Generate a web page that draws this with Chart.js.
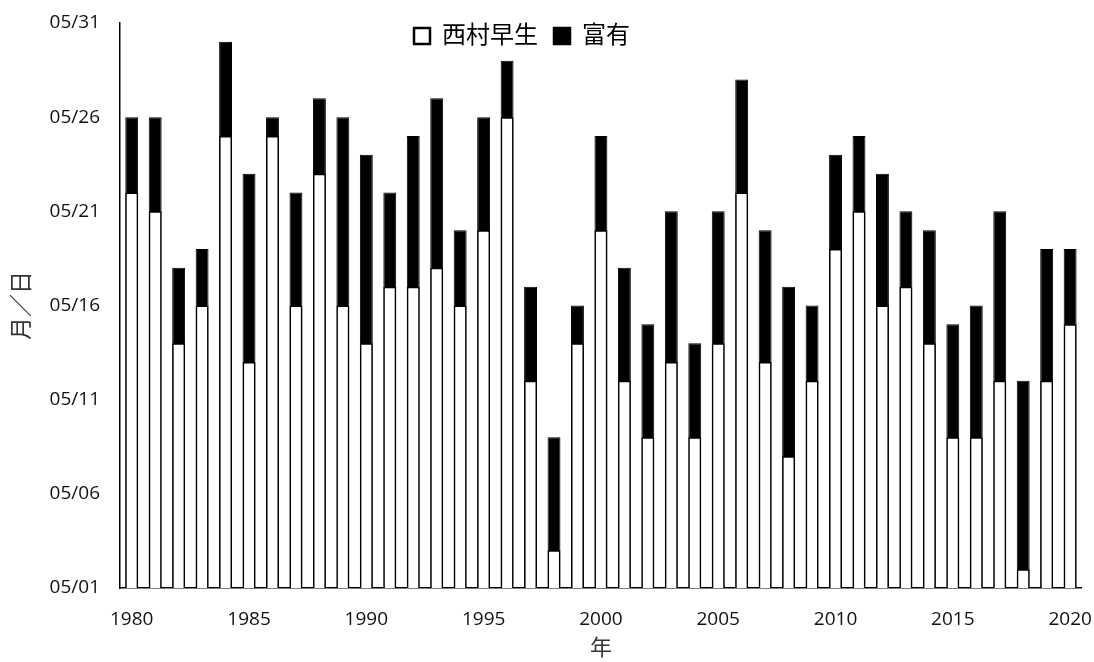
<!DOCTYPE html>
<html>
<head>
<meta charset="utf-8">
<script src="https://cdn.jsdelivr.net/npm/chart.js@4/dist/chart.umd.min.js"></script>
<style>
  html, body { margin: 0; padding: 0; background: #fff; }
  #wrap { width: 1094px; height: 662px; }
</style>
</head>
<body>
<div id="wrap"><canvas id="chart"></canvas></div>
<script>
const years = [];
for (let y = 1980; y <= 2020; y++) years.push(String(y));

// day of May
const nishimura = [22, 21, 14, 16, 25, 13, 25, 16, 23, 16,
                   14, 17, 17, 18, 16, 20, 26, 12, 3, 14,
                   20, 12, 9, 13, 9, 14, 22, 13, 8, 12,
                   19, 21, 16, 17, 14, 9, 9, 12, 2, 12, 15];
const fuyu = [26, 26, 18, 19, 30, 23, 26, 22, 27, 26,
              24, 22, 25, 27, 20, 26, 29, 17, 9, 16,
              25, 18, 15, 21, 14, 21, 28, 20, 17, 16,
              24, 25, 23, 21, 20, 15, 16, 21, 12, 19, 19];
const yTicks = [1, 6, 11, 16, 21, 26, 31];

const font = "'Open Sans', 'Noto Sans CJK JP', sans-serif";

// legend takes no room and floats over the top of the plot
const legendFloat = {
    id: 'legendFloat',
    beforeLayout(chart) {
        const lg = chart.legend;
        if (lg && !lg._patched) {
            const fit = lg.fit;
            lg.fit = function () {
                fit.call(this);
                this.height = 0;
            };
            lg._patched = true;
        }
    },
    afterLayout(chart) {
        const lg = chart.legend;
        lg.left -= 19;
        lg.right -= 19;
        lg.top = 8;
        lg.bottom = 60;
    }
};

// hidden tick marks just to space the labels off the axis
const noGrid = { display: false, drawTicks: true, tickLength: 18, color: 'rgba(0,0,0,0)' };

new Chart(document.getElementById('chart'), {
    type: 'bar',
    data: {
        labels: years,
        datasets: [{
            label: '西村早生',
            data: nishimura,
            backgroundColor: '#ffffff',
            borderColor: '#000000',
            borderWidth: 1.5,
            borderSkipped: false,
            barPercentage: 0.55,
            categoryPercentage: 1
        }, {
            label: '富有',
            data: fuyu,
            backgroundColor: '#000000',
            borderColor: '#000000',
            borderWidth: 1,
            barPercentage: 0.55,
            categoryPercentage: 1
        }]
    },
    plugins: [legendFloat],
    options: {
        responsive: true,
        maintainAspectRatio: false,
        animation: false,
        layout: { padding: { top: 23, right: 12, bottom: 0, left: 0 } },
        plugins: {
            tooltip: { enabled: false },
            legend: {
                position: 'top',
                align: 'center',
                labels: {
                    color: '#222',
                    font: { family: font, size: 24 },
                    boxWidth: 16,
                    boxHeight: 16,
                    padding: 16,
                    generateLabels: chart => chart.data.datasets.map((ds, i) => ({
                        text: ds.label,
                        fillStyle: ds.backgroundColor,
                        strokeStyle: '#000',
                        lineWidth: 2.5,
                        datasetIndex: i
                    }))
                }
            }
        },
        scales: {
            x: {
                stacked: true,
                grid: noGrid,
                border: { display: true, color: '#000', width: 1.5 },
                ticks: {
                    autoSkip: false,
                    maxRotation: 0,
                    padding: 2,
                    color: '#111',
                    font: { family: font, size: 19 },
                    callback: function (v) {
                        const lab = this.getLabelForValue(v);
                        return Number(lab) % 5 === 0 ? lab : '';
                    }
                },
                title: {
                    display: true,
                    text: '年',
                    color: '#333',
                    font: { family: font, size: 22 },
                    padding: { top: 0, bottom: 0 }
                },
                afterFit: s => { s.height = 74; }
            },
            y: {
                stacked: false,
                min: 1,
                max: 31,
                grid: noGrid,
                border: { display: true, color: '#000', width: 1.5 },
                afterBuildTicks: s => { s.ticks = yTicks.map(v => ({ value: v })); },
                ticks: {
                    padding: 2,
                    color: '#111',
                    font: { family: font, size: 19 },
                    callback: v => '05/' + String(v).padStart(2, '0')
                },
                title: {
                    display: true,
                    text: '月／日',
                    color: '#333',
                    font: { family: font, size: 23 },
                    padding: { top: 9, bottom: 0 }
                },
                afterFit: s => { s.width = 120; }
            }
        }
    }
});
</script>
</body>
</html>
